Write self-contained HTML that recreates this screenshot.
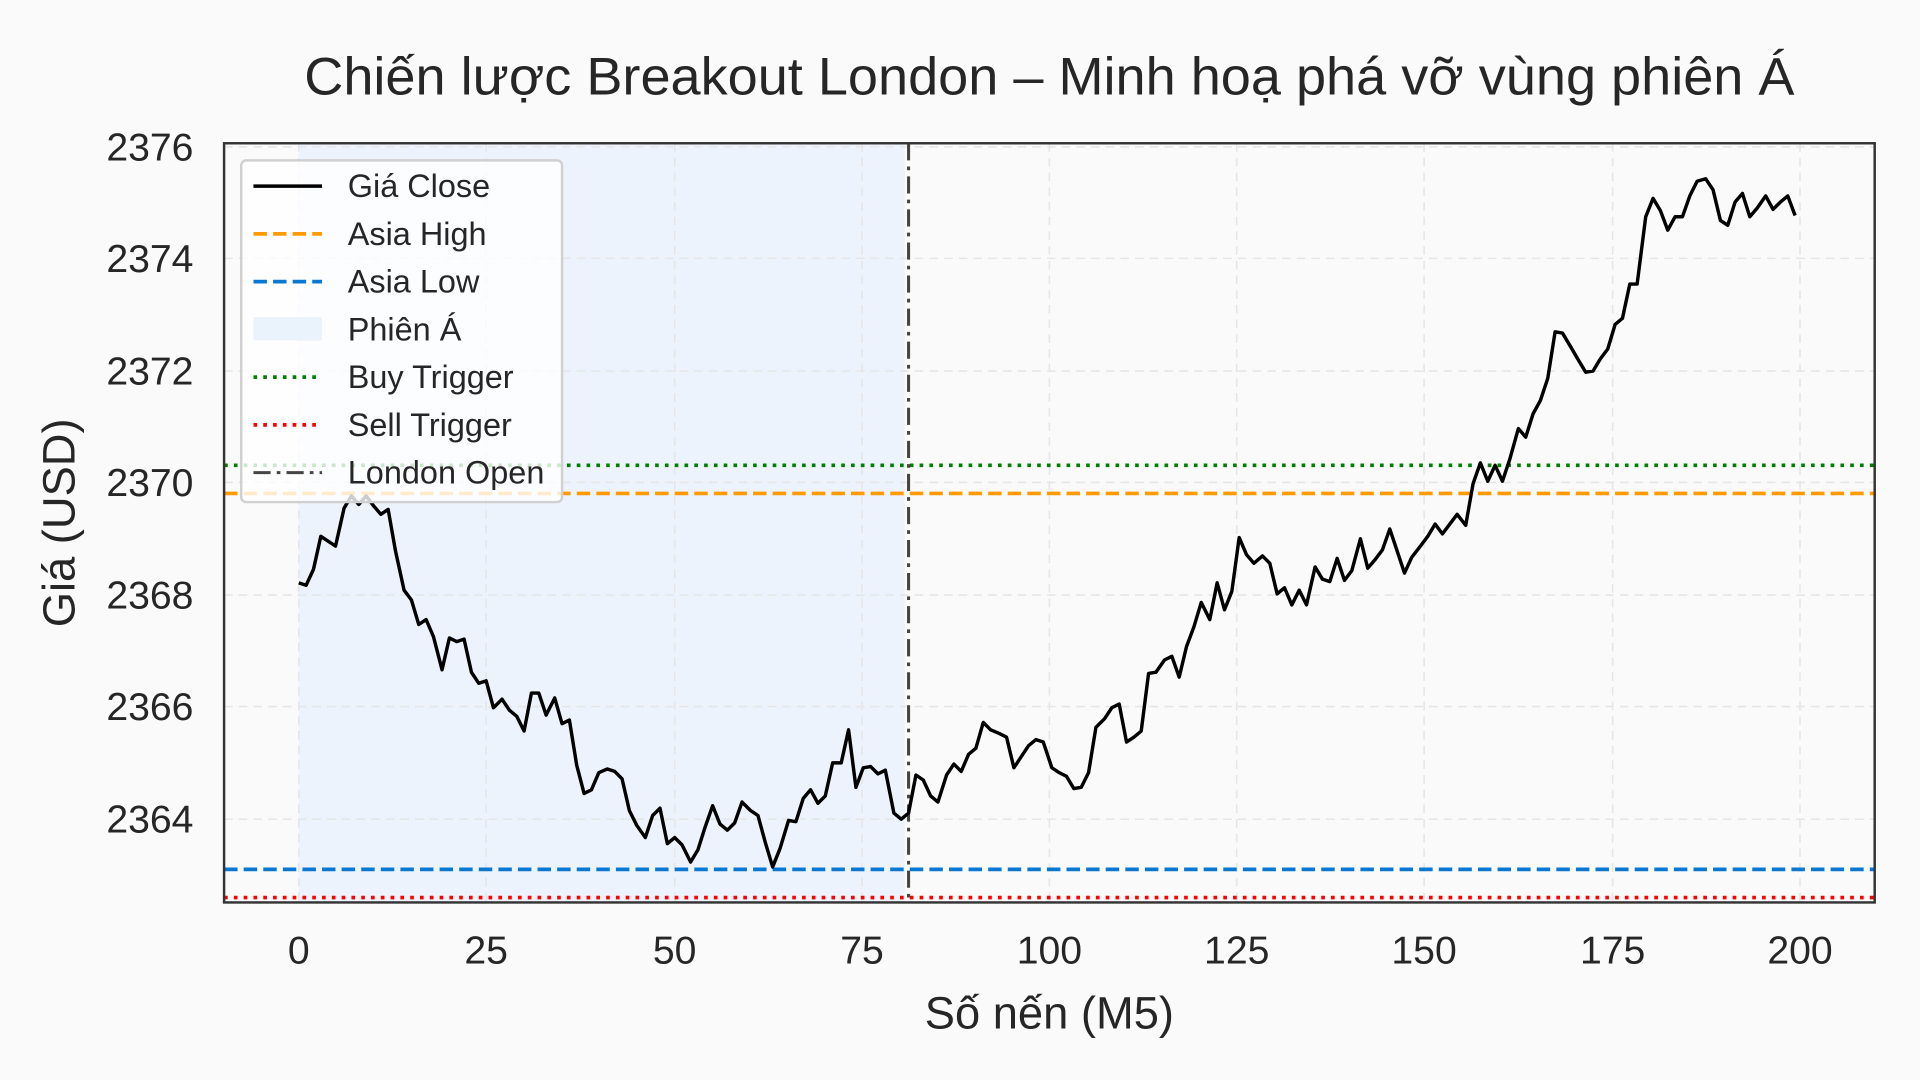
<!DOCTYPE html>
<html><head><meta charset="utf-8"><style>html,body{margin:0;padding:0;background:#fafafa}svg{display:block}</style></head><body>
<svg width="1920" height="1080" viewBox="0 0 1568 882" xmlns="http://www.w3.org/2000/svg" font-family="Liberation Sans, DejaVu Sans, sans-serif">
<rect width="1568" height="882" fill="#fafafa"/>
<text x="857" y="77" font-size="43" text-anchor="middle" fill="#262626" textLength="1217" lengthAdjust="spacingAndGlyphs">Chiến lược Breakout London – Minh hoạ phá vỡ vùng phiên Á</text>
<rect x="244" y="117" width="495" height="620" fill="#eaf2fc" opacity="0.9"/>
<g stroke="#e6e6e6" stroke-width="1.3" stroke-dasharray="7,5">
<line x1="244" y1="117" x2="244" y2="737"/><line x1="397" y1="117" x2="397" y2="737"/><line x1="551" y1="117" x2="551" y2="737"/><line x1="704" y1="117" x2="704" y2="737"/><line x1="857" y1="117" x2="857" y2="737"/><line x1="1010" y1="117" x2="1010" y2="737"/><line x1="1163" y1="117" x2="1163" y2="737"/><line x1="1317" y1="117" x2="1317" y2="737"/><line x1="1470" y1="117" x2="1470" y2="737"/>
<line x1="183" y1="120" x2="1531" y2="120"/><line x1="183" y1="211" x2="1531" y2="211"/><line x1="183" y1="303" x2="1531" y2="303"/><line x1="183" y1="394" x2="1531" y2="394"/><line x1="183" y1="486" x2="1531" y2="486"/><line x1="183" y1="577" x2="1531" y2="577"/><line x1="183" y1="669" x2="1531" y2="669"/>
</g>
<line x1="183" y1="403" x2="1531" y2="403" stroke="#ff9a00" stroke-width="3" stroke-dasharray="11,5"/>
<line x1="183" y1="710" x2="1531" y2="710" stroke="#0a78d2" stroke-width="3" stroke-dasharray="11,5"/>
<line x1="183" y1="380" x2="1531" y2="380" stroke="#008000" stroke-width="3" stroke-dasharray="3,5"/>
<line x1="183" y1="733" x2="1531" y2="733" stroke="#ff0000" stroke-width="3" stroke-dasharray="3,5"/>
<line x1="742" y1="117" x2="742" y2="737" stroke="#444" stroke-width="2.5" stroke-dasharray="14,5,3,5"/>
<polyline fill="none" stroke="#000" stroke-width="2.8" stroke-linejoin="round" points="244,476 250,478 256,465 262,438 268,442 274,446 281,415 287,405 293,412 299,405 305,413 311,420 317,416 323,450 330,482 336,490 342,510 348,506 354,520 361,547 367,521 373,524 379,522 385,549 391,558 397,556 403,578 410,571 416,580 422,585 428,597 434,566 440,566 446,584 453,570 459,591 465,588 471,625 477,648 483,645 489,631 496,628 502,630 508,636 514,662 520,674 527,684 533,666 539,660 545,689 551,684 557,690 564,704 570,694 576,675 582,658 588,673 594,678 600,672 606,655 613,662 619,666 625,688 631,708 637,693 644,670 650,671 656,652 662,645 668,656 674,650 680,623 687,623 693,596 699,643 705,627 711,626 717,632 723,629 730,664 736,669 742,664 748,633 754,637 760,650 766,655 773,633 779,624 785,630 791,616 797,611 803,590 809,596 816,599 822,602 828,627 834,618 840,609 846,604 852,606 859,627 865,631 871,634 877,644 883,643 889,631 895,594 902,587 908,578 914,575 920,606 926,602 932,597 938,550 944,549 951,539 957,536 963,553 969,528 975,512 981,492 988,506 994,476 1000,498 1006,483 1012,439 1018,453 1024,460 1031,454 1037,460 1043,485 1049,480 1055,494 1061,482 1067,494 1074,463 1080,473 1086,475 1092,456 1098,474 1104,466 1111,440 1117,464 1123,457 1129,449 1135,432 1141,450 1147,468 1153,455 1160,446 1166,438 1172,428 1178,436 1184,428 1190,420 1197,429 1203,395 1209,378 1215,393 1221,380 1227,393 1233,375 1240,350 1246,357 1252,338 1258,327 1264,309 1270,271 1276,272 1282,282 1289,294 1295,304 1301,303 1307,293 1313,285 1319,265 1325,260 1331,232 1337,232 1344,177 1350,162 1356,172 1362,188 1368,177 1374,177 1380,160 1386,148 1393,146 1399,155 1405,180 1411,184 1417,165 1423,158 1429,177 1435,170 1442,160 1448,171 1454,165 1460,160 1466,176"/>
<rect x="183" y="117" width="1348" height="620" fill="none" stroke="#333" stroke-width="2"/>
<g font-size="32" fill="#262626" text-anchor="end">
<text x="158" y="131">2376</text><text x="158" y="222">2374</text><text x="158" y="314">2372</text><text x="158" y="405">2370</text><text x="158" y="497">2368</text><text x="158" y="588">2366</text><text x="158" y="680">2364</text>
</g>
<g font-size="32" fill="#262626" text-anchor="middle">
<text x="244" y="787">0</text><text x="397" y="787">25</text><text x="551" y="787">50</text><text x="704" y="787">75</text><text x="857" y="787">100</text><text x="1010" y="787">125</text><text x="1163" y="787">150</text><text x="1317" y="787">175</text><text x="1470" y="787">200</text>
</g>
<text x="857" y="840" font-size="37" text-anchor="middle" fill="#262626">Số nến (M5)</text>
<text transform="translate(61,427) rotate(-90)" font-size="37" text-anchor="middle" fill="#262626">Giá (USD)</text>
<rect x="197" y="131" width="262" height="279" rx="4" fill="#fff" fill-opacity="0.8" stroke="#d0d0d0" stroke-width="2"/>
<g font-size="26.5" fill="#262626">
<line x1="207" y1="152" x2="263" y2="152" stroke="#000" stroke-width="2.8"/><text x="284" y="161">Giá Close</text>
<line x1="207" y1="191" x2="263" y2="191" stroke="#ff9a00" stroke-width="3" stroke-dasharray="11,5"/><text x="284" y="200">Asia High</text>
<line x1="207" y1="230" x2="263" y2="230" stroke="#0a78d2" stroke-width="3" stroke-dasharray="11,5"/><text x="284" y="239">Asia Low</text>
<rect x="207" y="259" width="56" height="19" fill="#eaf2fc"/><text x="284" y="278">Phiên Á</text>
<line x1="207" y1="308" x2="263" y2="308" stroke="#008000" stroke-width="3" stroke-dasharray="3,5"/><text x="284" y="317">Buy Trigger</text>
<line x1="207" y1="347" x2="263" y2="347" stroke="#ff0000" stroke-width="3" stroke-dasharray="3,5"/><text x="284" y="356">Sell Trigger</text>
<line x1="207" y1="386" x2="263" y2="386" stroke="#444" stroke-width="2.5" stroke-dasharray="14,5,3,5"/><text x="284" y="395">London Open</text>
</g>
</svg>
</body></html>
